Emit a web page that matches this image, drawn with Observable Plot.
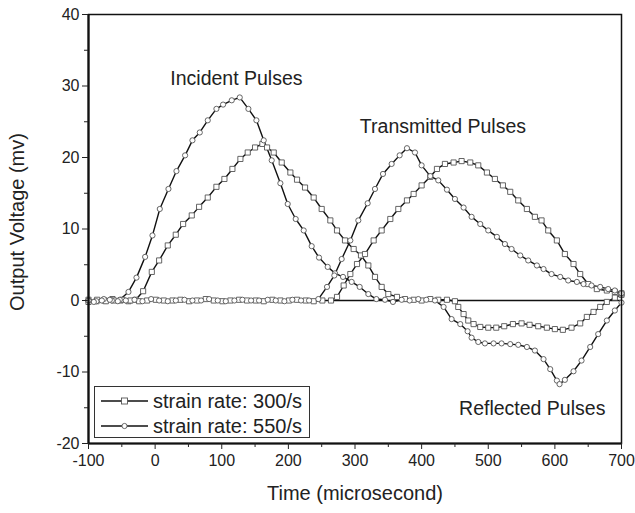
<!DOCTYPE html>
<html><head><meta charset="utf-8">
<script src="https://cdn.jsdelivr.net/npm/d3@7"></script>
<script src="https://cdn.jsdelivr.net/npm/@observablehq/plot@0.6"></script>
<style>
body{margin:0;background:#fff;font-family:"Liberation Sans",Arial,sans-serif;}
#wrap{position:relative;width:635px;height:513px;}
#legend{position:absolute;left:94px;top:386px;width:216px;height:52px;border:1px solid #333;background:#fff;box-sizing:border-box;}
</style></head>
<body><div id="wrap"><div id="chart"></div><div id="legend"></div></div>
<script>
// Incident + reflected, strain rate 300/s (squares)
const ir300_t = [-100,-88,-76,-64,-52,-40,-29,-18,-5,6,19,31,42,55,66,79,92,104,116,128,139,150,161,168,178,190,203,213,225,238,250,263,273,285,298,309,320,330,340,350,363,375,388,400,413,425,438,450,455,463,470,478,488,500,512,524,537,550,562,575,588,600,612,625,638,648,658,668,678,690,700];
const ir300_v = [0.1,-0.1,0.0,0.2,0.0,-0.1,0.1,1.3,4.0,5.6,7.7,9.2,10.7,11.9,13.1,14.4,15.9,17.0,18.4,19.8,20.7,21.4,21.9,21.4,20.7,19.3,17.9,16.9,15.8,14.4,12.8,11.2,9.8,8.4,7.2,6.3,4.9,3.3,1.9,0.9,0.5,0.2,0.1,0.0,0.2,0.1,0.1,-0.1,-0.9,-1.9,-2.8,-3.3,-3.7,-3.8,-3.8,-3.6,-3.3,-3.2,-3.4,-3.6,-3.8,-4.0,-4.1,-3.8,-3.2,-2.3,-1.6,-0.9,-0.2,0.4,0.8];
// Incident + reflected, strain rate 550/s (circles)
const ir550_t = [-100,-88,-77,-65,-53,-40,-28,-15,-4,7,20,32,45,56,67,79,92,102,115,127,140,152,163,175,188,199,211,223,235,246,259,270,282,295,307,320,332,345,357,370,382,395,407,420,433,445,458,469,475,485,495,508,520,533,545,558,570,583,593,603,607,615,628,640,653,665,678,690,700];
const ir550_v = [0.0,-0.1,0.2,0.0,0.1,1.2,3.2,6.1,9.1,12.8,15.6,18.1,20.3,22.4,23.5,25.2,26.8,27.4,28.0,28.4,26.8,25.2,22.4,19.6,16.4,13.5,11.4,9.8,7.6,6.0,4.7,3.8,3.3,2.6,1.9,0.9,0.2,0.1,-0.2,0.1,0.0,0.2,0.1,0.0,-0.9,-2.6,-3.3,-4.3,-5.2,-5.8,-6.0,-6.0,-6.0,-6.1,-6.2,-6.5,-7.0,-8.2,-9.6,-11.2,-11.7,-11.1,-9.9,-8.4,-6.5,-4.7,-2.8,-1.4,-0.3];
// Transmitted, strain rate 300/s (squares)
const tr300_t = [-100,-87,-74,-62,-49,-37,-24,-12,1,13,26,38,51,63,76,88,101,113,126,138,151,163,176,188,201,213,226,238,251,264,273,283,293,303,315,328,340,353,365,378,388,400,413,423,435,448,460,473,485,498,510,522,533,545,558,570,580,590,603,615,628,638,650,663,678,690,700];
const tr300_v = [-0.2,0.1,-0.1,0.0,0.1,0.0,-0.1,0.0,0.1,0.0,0.0,0.1,-0.1,0.0,0.2,0.0,-0.1,0.0,0.1,0.0,0.0,-0.1,0.1,0.0,0.0,0.1,0.0,-0.1,0.0,0.0,0.5,2.1,3.7,5.1,6.5,8.4,9.8,11.4,12.8,14.0,14.9,16.1,17.3,18.4,19.1,19.3,19.5,19.3,18.9,17.9,17.0,16.1,15.2,14.0,12.8,11.7,11.2,9.8,8.4,6.5,5.1,3.7,2.3,1.6,1.4,1.2,1.0];
// Transmitted, strain rate 550/s (circles)
const tr550_t = [-100,-92,-80,-68,-56,-44,-31,-19,-6,6,19,31,44,56,69,81,94,106,119,131,144,156,169,181,194,206,219,231,245,258,269,280,293,305,319,330,342,355,367,378,390,400,413,425,438,450,463,475,488,500,513,525,535,548,560,573,583,595,608,620,633,643,655,668,680,690,700];
const tr550_v = [0.0,-0.2,0.0,0.1,-0.1,0.0,0.1,-0.1,0.2,0.0,-0.1,0.0,0.1,0.0,0.0,0.2,0.0,-0.1,0.0,0.1,0.0,0.0,0.1,0.0,-0.1,0.1,0.0,0.0,0.2,1.9,3.5,5.8,8.4,11.2,13.6,15.6,17.7,19.1,20.3,21.3,20.7,18.9,17.4,16.8,15.5,14.2,13.0,11.7,10.7,9.8,8.9,7.9,7.2,6.3,5.6,4.9,4.4,3.7,3.3,2.8,2.6,2.3,2.1,1.9,1.6,1.4,1.0];
// straight zero line drawn in the original
const zero_t = [264, 700];
const zero_v = [0, 0];

const xTicks = [-100,0,100,200,300,400,500,600,700];
const xMinor = [-50,50,150,250,350,450,550,650];
const yTicks = [-20,-10,0,10,20,30,40];
const yMinor = [-15,-5,5,15,25,35];

const notes = [
  {label:"Incident Pulses", t:122, v:31.0},
  {label:"Transmitted Pulses", t:432, v:24.3},
  {label:"Reflected Pulses", t:566, v:-15.1}
];
const legendLabels = ["strain rate: 300/s","strain rate: 550/s"];

const zip = (t,v) => t.map((x,i)=>({t:x,v:v[i]}));
const ir300 = zip(ir300_t, ir300_v), ir550 = zip(ir550_t, ir550_v);
const tr300 = zip(tr300_t, tr300_v), tr550 = zip(tr550_t, tr550_v);
const zero = zip(zero_t, zero_v);

const lineOpt = {x:"t", y:"v", stroke:"#111", strokeWidth:1.4};
const sqOpt = {x:"t", y:"v", symbol:"square", r:2.9, fill:"white", stroke:"#555", strokeWidth:0.9};
const ciOpt = {x:"t", y:"v", symbol:"circle", r:2.6, fill:"white", stroke:"#555", strokeWidth:0.9};

const chart = Plot.plot({
  width:635, height:513,
  marginLeft:88, marginRight:14, marginTop:14, marginBottom:70,
  style:{fontFamily:"'Liberation Sans', Arial, sans-serif", color:"#222", background:"white"},
  x:{domain:[-100,700]},
  y:{domain:[-20,40]},
  marks:[
    Plot.line(zero, lineOpt),
    Plot.line(ir300, lineOpt), Plot.line(ir550, lineOpt),
    Plot.line(tr300, lineOpt), Plot.line(tr550, lineOpt),
    Plot.dot(ir300, sqOpt), Plot.dot(tr300, sqOpt),
    Plot.dot(ir550, ciOpt), Plot.dot(tr550, ciOpt),
    Plot.text(notes, {x:"t", y:"v", text:"label", fontSize:19.5, fill:"#222"}),
    Plot.frame({stroke:"#111", strokeWidth:1.5}),
    Plot.ruleX([-100], {stroke:"#111", strokeWidth:2.2}),
    Plot.ruleY([-20], {stroke:"#111", strokeWidth:2.2}),
    Plot.axisX({ticks:xTicks, tickSize:6, tickPadding:5, fontSize:16, label:null}),
    Plot.axisX({ticks:xMinor, tickSize:4, tickFormat:()=>"", label:null}),
    Plot.axisY({ticks:yTicks, tickSize:6, tickPadding:3, fontSize:16, label:null}),
    Plot.axisY({ticks:yMinor, tickSize:4, tickFormat:()=>"", label:null}),
    Plot.text(["Time (microsecond)"], {frameAnchor:"bottom", dy:56, fontSize:20, fill:"#222"}),
    Plot.text(["Output Voltage (mv)"], {frameAnchor:"left", textAnchor:"middle", dx:-71, dy:-7, rotate:-90, fontSize:20, fill:"#222"})
  ]
});
chart.querySelectorAll("text").forEach(t=>{
  if (t.textContent.includes("\u2212")) t.textContent = t.textContent.replace("\u2212","-");
});
document.getElementById("chart").appendChild(chart);

// legend
const lg = document.getElementById("legend");
const ns = "http://www.w3.org/2000/svg";
const ls = document.createElementNS(ns,"svg");
ls.setAttribute("width",214); ls.setAttribute("height",50);
legendLabels.forEach((lab,i)=>{
  const y = 14 + i*25;
  const g = document.createElementNS(ns,"g");
  const l = document.createElementNS(ns,"line");
  l.setAttribute("x1",6); l.setAttribute("x2",53); l.setAttribute("y1",y); l.setAttribute("y2",y);
  l.setAttribute("stroke","#111"); l.setAttribute("stroke-width",1.4);
  g.appendChild(l);
  if(i===0){
    const s = document.createElementNS(ns,"rect");
    s.setAttribute("x",26.5); s.setAttribute("y",y-3); s.setAttribute("width",6); s.setAttribute("height",6);
    s.setAttribute("fill","white"); s.setAttribute("stroke","#555"); s.setAttribute("stroke-width",0.9);
    g.appendChild(s);
  } else {
    const c = document.createElementNS(ns,"circle");
    c.setAttribute("cx",29.5); c.setAttribute("cy",y); c.setAttribute("r",2.6);
    c.setAttribute("fill","white"); c.setAttribute("stroke","#555"); c.setAttribute("stroke-width",0.9);
    g.appendChild(c);
  }
  const tx = document.createElementNS(ns,"text");
  tx.setAttribute("x",58); tx.setAttribute("y",y+7);
  tx.setAttribute("font-size",20); tx.setAttribute("fill","#222");
  tx.setAttribute("font-family","'Liberation Sans', Arial, sans-serif");
  tx.textContent = lab;
  g.appendChild(tx);
  ls.appendChild(g);
});
lg.appendChild(ls);
</script></body></html>
